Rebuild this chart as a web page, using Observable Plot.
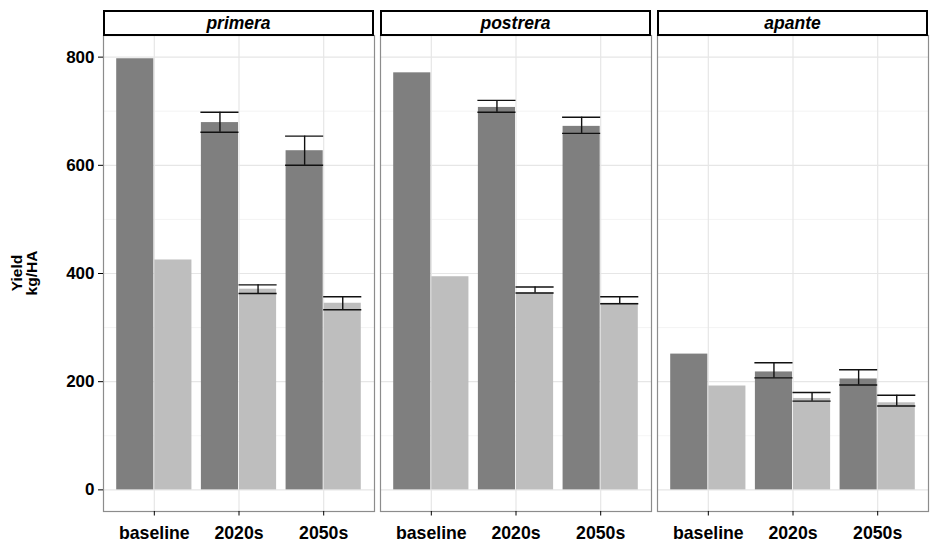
<!DOCTYPE html>
<html><head><meta charset="utf-8">
<script src="https://cdn.jsdelivr.net/npm/d3@7"></script>
<script src="https://cdn.jsdelivr.net/npm/@observablehq/plot@0.6"></script>
<style>
body{margin:0;background:#fff;}
svg{font-family:"Liberation Sans",Arial,Helvetica,sans-serif;}
</style>
</head><body><div id="chart"></div>
<script>
const seasons = ["primera", "postrera", "apante"];
const periods = ["baseline", "2020s", "2050s"];
const seriesNames = ["dark", "light"];
// rows: season, columns: period
const darkYield = [[797, 679, 627], [771, 707, 672], [251, 218, 205]];
const darkLow   = [[null, 661, 600], [null, 698, 659], [null, 207, 194]];
const darkHigh  = [[null, 698, 654], [null, 720, 689], [null, 235, 222]];
const lightYield = [[425, 371, 345], [394, 364, 345], [192, 169, 161]];
const lightLow   = [[null, 363, 333], [null, 364, 344], [null, 164, 155]];
const lightHigh  = [[null, 379, 357], [null, 375, 357], [null, 180, 175]];
const yTicks = [0, 200, 400, 600, 800];
const yMinor = [100, 300, 500, 700];

const W = 0.45;
const rows = [];
seasons.forEach((s, si) => periods.forEach((p, pi) => {
  rows.push({season: s, pos: pi + 1, series: "dark", value: darkYield[si][pi], lo: darkLow[si][pi], hi: darkHigh[si][pi]});
  rows.push({season: s, pos: pi + 1, series: "light", value: lightYield[si][pi], lo: lightLow[si][pi], hi: lightHigh[si][pi]});
}));
rows.forEach(d => {
  d.x1 = d.series === "dark" ? d.pos - W : d.pos;
  d.x2 = d.series === "dark" ? d.pos : d.pos + W;
  d.xc = (d.x1 + d.x2) / 2;
});
const errRows = rows.filter(d => d.lo != null);

const mL = 102, mR = 2, mT = 35, mB = 32;
const chart = Plot.plot({
  width: 931, height: 543,
  marginLeft: mL, marginRight: mR, marginTop: mT, marginBottom: mB,
  style: {fontFamily: '"Liberation Sans",Arial,sans-serif', fontSize: "17px", fontWeight: "bold", color: "#000", background: "#fff"},
  fx: {domain: seasons, paddingInner: 0.022, paddingOuter: 0, axis: null},
  x: {domain: [0.4, 3.6], axis: null},
  y: {domain: [-40, 840], axis: null},
  color: {type: "ordinal", domain: seriesNames, range: ["#7f7f7f", "#bebebe"]},
  marks: [
    Plot.gridY(yMinor, {stroke: "#efefef", strokeOpacity: 1, strokeWidth: 0.7}),
    Plot.gridY(yTicks, {stroke: "#e6e6e6", strokeOpacity: 1, strokeWidth: 1.2}),
    Plot.gridX([1, 2, 3], {stroke: "#e6e6e6", strokeOpacity: 1, strokeWidth: 1.2}),
    Plot.rectY(rows, {fx: "season", x1: "x1", x2: "x2", y: "value", fill: "series", insetLeft: 0.5, insetRight: 0.5}),
    Plot.ruleX(errRows, {fx: "season", x: "xc", y1: "lo", y2: "hi", stroke: "#111", strokeWidth: 1.4}),
    Plot.ruleY(errRows, {fx: "season", y: "lo", x1: "x1", x2: "x2", stroke: "#111", strokeWidth: 1.4}),
    Plot.ruleY(errRows, {fx: "season", y: "hi", x1: "x1", x2: "x2", stroke: "#111", strokeWidth: 1.4}),
    Plot.frame({stroke: "#8c8c8c", strokeWidth: 1.2}),
    Plot.axisY({ticks: yTicks, tickSize: 5, tickPadding: 4, label: null, fontSize: 17, fontWeight: "bold"}),
    Plot.axisX({ticks: [1, 2, 3], tickFormat: d => periods[d - 1], tickSize: 4.5, tickPadding: 10, label: null, fontSize: 17.7, fontWeight: "bold"})
  ]
});
document.getElementById("chart").appendChild(chart);

const svg = d3.select(chart);
const fx = chart.scale("fx");
seasons.forEach(s => {
  const x0 = fx.apply(s);
  const bw = fx.bandwidth;
  svg.append("rect").attr("x", x0 + 1).attr("y", 11).attr("width", bw - 2).attr("height", 24)
    .attr("fill", "#fff").attr("stroke", "#000").attr("stroke-width", 2);
  svg.append("text").attr("x", x0 + bw / 2).attr("y", 29).attr("text-anchor", "middle")
    .style("font-style", "italic").style("font-weight", "bold").style("font-size", "17.5px").attr("fill", "#000").text(s);
});
const lab = svg.append("text").attr("transform", "translate(24,273) rotate(-90)")
  .attr("text-anchor", "middle").style("font-weight", "bold").style("font-size", "15.5px").attr("fill", "#000");
lab.append("tspan").attr("x", 0).attr("dy", "-0.1em").text("Yield");
lab.append("tspan").attr("x", 0).attr("dy", "0.95em").text("kg/HA");
</script>
</body></html>
